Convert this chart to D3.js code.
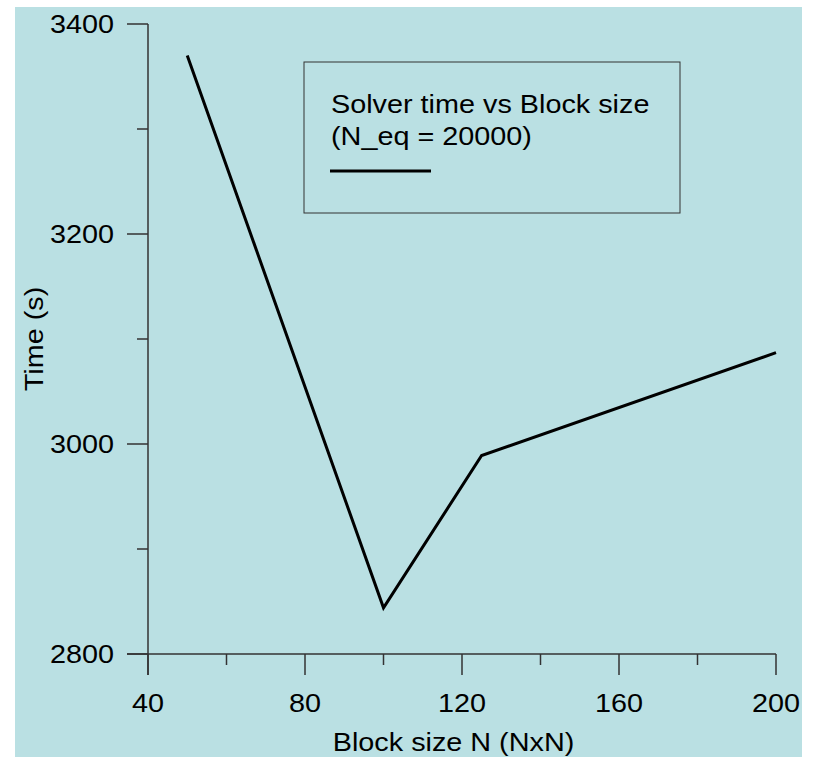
<!DOCTYPE html>
<html>
<head>
<meta charset="utf-8">
<script src="https://cdn.jsdelivr.net/npm/d3@7"></script>
<style>
  body { margin: 0; background: #fff; }
  svg text { font-family: "Liberation Sans", Arial, sans-serif; fill: #000; }
</style>
</head>
<body>
<div id="chart"></div>
<script>
// data
const blockSizes = [50, 100, 125, 200];
const solverTimes = [3370, 2844, 2989, 3087];
const xTickValues = [40, 80, 120, 160, 200];
const xMinorTicks = [60, 100, 140, 180];
const yTickValues = [2800, 3000, 3200, 3400];
const yMinorTicks = [2900, 3100, 3300];
const legendLines = ['Solver time vs Block size', '(N_eq = 20000)'];

const width = 815;
const height = 760;
const margin = {top: 24, right: 38, bottom: 106, left: 148};
const fontSize = 25.5;
const stretch = 1.13; // the original text is a little wider than Liberation Sans

const svg = d3.select('#chart').append('svg')
  .attr('width', width)
  .attr('height', height);

// panel background
svg.append('rect')
  .attr('x', 15).attr('y', 7)
  .attr('width', 787).attr('height', 750)
  .attr('fill', '#bae0e3');

const x = d3.scaleLinear().domain([40, 200]).range([margin.left, width - margin.right - 1]);
const y = d3.scaleLinear().domain([2800, 3400]).range([height - margin.bottom, margin.top]);

const axisColor = '#333';

// places a stretched text at (tx, ty)
function label(sel, tx, ty, anchor, rot) {
  return sel.attr('transform', (d, i) => {
    const px = typeof tx === 'function' ? tx(d, i) : tx;
    const py = typeof ty === 'function' ? ty(d, i) : ty;
    return `translate(${px},${py})` + (rot ? ` rotate(${rot})` : '') + ` scale(${stretch},1)`;
  })
    .attr('text-anchor', anchor)
    .attr('font-size', fontSize);
}

// y axis line + ticks
svg.append('line')
  .attr('x1', x(40)).attr('x2', x(40))
  .attr('y1', y(3400)).attr('y2', y(2800) + 21)
  .attr('stroke', axisColor).attr('stroke-width', 1.5);

svg.selectAll('.ytick').data(yTickValues).enter().append('line')
  .attr('x1', x(40) - 21).attr('x2', x(40))
  .attr('y1', d => y(d)).attr('y2', d => y(d))
  .attr('stroke', axisColor).attr('stroke-width', 1.5);

svg.selectAll('.yminor').data(yMinorTicks).enter().append('line')
  .attr('x1', x(40) - 11).attr('x2', x(40))
  .attr('y1', d => y(d)).attr('y2', d => y(d))
  .attr('stroke', axisColor).attr('stroke-width', 1.5);

label(svg.selectAll('.ylabel').data(yTickValues).enter().append('text'),
  x(40) - 34, d => y(d) + 9, 'end')
  .text(d => d);

// x axis line + ticks
svg.append('line')
  .attr('x1', x(40) - 21).attr('x2', x(200))
  .attr('y1', y(2800)).attr('y2', y(2800))
  .attr('stroke', axisColor).attr('stroke-width', 1.5);

svg.selectAll('.xtick').data(xTickValues).enter().append('line')
  .attr('x1', d => x(d)).attr('x2', d => x(d))
  .attr('y1', y(2800)).attr('y2', y(2800) + 21)
  .attr('stroke', axisColor).attr('stroke-width', 1.5);

svg.selectAll('.xminor').data(xMinorTicks).enter().append('line')
  .attr('x1', d => x(d)).attr('x2', d => x(d))
  .attr('y1', y(2800)).attr('y2', y(2800) + 11)
  .attr('stroke', axisColor).attr('stroke-width', 1.5);

label(svg.selectAll('.xlabel').data(xTickValues).enter().append('text'),
  d => x(d), y(2800) + 58, 'middle')
  .text(d => d);

// axis titles
label(svg.append('text'), 453.5, 751, 'middle')
  .text('Block size N (NxN)');

label(svg.append('text'), 43, (y(2800) + y(3400)) / 2, 'middle', -90)
  .text('Time (s)');

// the series
const line = d3.line()
  .x((d, i) => x(blockSizes[i]))
  .y(d => y(d));

svg.append('path')
  .datum(solverTimes)
  .attr('d', line)
  .attr('fill', 'none')
  .attr('stroke', '#000')
  .attr('stroke-width', 3)
  .attr('stroke-linejoin', 'miter');

// legend box
const legend = svg.append('g').attr('transform', 'translate(304,62)');
legend.append('rect')
  .attr('width', 376).attr('height', 151)
  .attr('fill', 'none')
  .attr('stroke', '#333').attr('stroke-width', 1);

label(legend.selectAll('text').data(legendLines).enter().append('text'),
  27, (d, i) => 51 + i * 32, 'start')
  .text(d => d);

legend.append('line')
  .attr('x1', 26).attr('x2', 127)
  .attr('y1', 109).attr('y2', 109)
  .attr('stroke', '#000').attr('stroke-width', 3);
</script>
</body>
</html>
